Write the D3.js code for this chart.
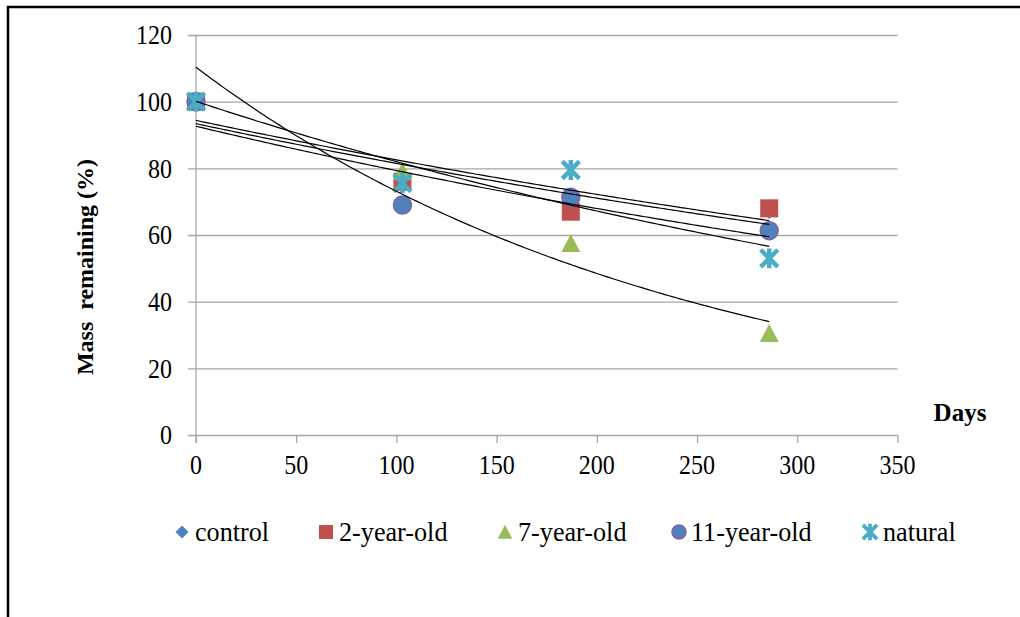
<!DOCTYPE html>
<html>
<head>
<meta charset="utf-8">
<script src="https://cdn.jsdelivr.net/npm/d3@7"></script>
<style>
  body { margin: 0; background: #fff; }
  svg text { font-family: "Liberation Serif", "Times New Roman", "DejaVu Serif", serif; fill: #000; }
  .tick-label { font-size: 27px; }
  .axis-title { font-size: 24px; font-weight: bold; }
  .legend-label { font-size: 27px; }
</style>
</head>
<body>
<svg id="chart"></svg>
<script>
// chart size
const width = 1020;
const height = 617;

// days of sampling
const days = [0, 103, 187, 286];

// series names and mass remaining (%)
const seriesNames = ["control", "2-year-old", "7-year-old", "11-year-old", "natural"];
const control = [100, 76.5, 71, 67.5];
const twoYear = [100, 76, 67, 68];
const sevenYear = [100, 79, 57.5, 30.5];
const elevenYear = [100, 69, 71.3, 61.3];
const natural = [100, 75.6, 79.5, 53];

const seriesValues = [control, twoYear, sevenYear, elevenYear, natural];

const xTicks = [0, 50, 100, 150, 200, 250, 300, 350];
const yTicks = [0, 20, 40, 60, 80, 100, 120];

const colors = ["#4f81bd", "#c0504d", "#9bbb59", "#4f81bd", "#4bacc6"];
const shapes = ["diamond", "square", "triangle", "circle", "star"];

const svg = d3.select("#chart")
  .attr("width", width)
  .attr("height", height);

const xScale = d3.scaleLinear().domain([0, 350]).range([196, 897.5]);
const yScale = d3.scaleLinear().domain([0, 120]).range([435, 35]);

// the source text is a bit narrow for its height
const squeeze = 0.89;

// outer frame (only top and left edges are inside the picture)
svg.append("rect")
  .attr("x", 8).attr("y", 7)
  .attr("width", 1100).attr("height", 700)
  .attr("fill", "none")
  .attr("stroke", "#000")
  .attr("stroke-width", 2.5);

drawAxis();
drawTitles();
drawMarkers();
drawTrends();
drawLegend();

function translate(x, y) {
  return "translate(" + String(x) + "," + String(y) + ")";
}

function drawAxis() {
  // horizontal grid, with ticks sticking out to the left
  svg.append("g")
    .attr("class", "ygrid")
    .attr("transform", translate(xScale.range()[1], 0))
    .call(d3.axisLeft(yScale).tickValues(yTicks).tickSize(xScale.range()[1] - xScale.range()[0] + 8).tickFormat(""))
    .call(g => g.select("path.domain").remove())
    .selectAll("line").attr("stroke", "#a6a6a6").attr("stroke-width", 1.3);

  // x axis ticks pointing down
  svg.append("g")
    .attr("class", "xaxis")
    .attr("transform", translate(0, yScale(0)))
    .call(d3.axisBottom(xScale).tickValues(xTicks).tickSize(8).tickSizeOuter(0).tickFormat(""))
    .call(g => g.select("path.domain").remove())
    .selectAll("line").attr("stroke", "#a6a6a6").attr("stroke-width", 1.3);

  // y axis line
  svg.append("line")
    .attr("x1", xScale(0)).attr("x2", xScale(0))
    .attr("y1", yScale(120)).attr("y2", yScale(0) + 8)
    .attr("stroke", "#a6a6a6").attr("stroke-width", 1.3);

  svg.append("g").selectAll("g")
    .data(yTicks).enter().append("g")
    .attr("transform", d => translate(172, yScale(d)) + " scale(" + squeeze + ",1)")
    .append("text")
    .attr("class", "tick-label")
    .attr("dy", "0.34em")
    .attr("text-anchor", "end")
    .text(d => d);

  svg.append("g").selectAll("g")
    .data(xTicks).enter().append("g")
    .attr("transform", d => translate(xScale(d), 474) + " scale(" + squeeze + ",1)")
    .append("text")
    .attr("class", "tick-label")
    .attr("text-anchor", "middle")
    .text(d => d);
}

function drawTitles() {
  svg.append("text")
    .attr("class", "axis-title")
    .attr("x", 960).attr("y", 421)
    .attr("text-anchor", "middle")
    .style("font-size", "25px")
    .text("Days");

  let yGroup = svg.append("g").attr("transform", translate(93, 267));
  yGroup.append("text")
    .attr("class", "axis-title")
    .attr("text-anchor", "middle")
    .attr("transform", "rotate(-90)")
    .text("Mass\u00a0\u00a0remaining (%)");
}

// draws one marker shape centred on (0,0)
function marker(g, shape, color, s) {
  if (shape == "diamond") {
    g.append("path").attr("d", `M0,${-s}L${s},0L0,${s}L${-s},0Z`).attr("fill", color);
  } else if (shape == "square") {
    g.append("rect").attr("x", -s).attr("y", -s).attr("width", 2 * s).attr("height", 2 * s).attr("fill", color);
  } else if (shape == "triangle") {
    g.append("path").attr("d", `M0,${-s * 1.05}L${s * 1.05},${s * 0.95}L${-s * 1.05},${s * 0.95}Z`).attr("fill", color);
  } else if (shape == "circle") {
    g.append("circle").attr("r", s).attr("fill", color).attr("stroke", "#8064a2").attr("stroke-width", 1.5);
  } else {
    let a = s * 0.95;
    g.append("path")
      .attr("d", `M${-a},${-a}L${a},${a}M${a},${-a}L${-a},${a}M0,${-s * 1.1}L0,${s * 1.1}`)
      .attr("stroke", color).attr("stroke-width", s / 2).attr("fill", "none");
  }
}

function drawMarkers() {
  let plot = svg.append("g").attr("id", "markers");
  seriesValues.forEach((vals, i) => {
    vals.forEach((v, j) => {
      let g = plot.append("g").attr("transform", translate(xScale(days[j]), yScale(v)));
      marker(g, shapes[i], colors[i], 9);
    });
  });
}

// exponential trend line (least squares on ln y), like the spreadsheet one
function expFit(xs, ys) {
  let ly = ys.map(Math.log);
  let mx = d3.mean(xs), my = d3.mean(ly);
  let sxy = d3.sum(xs, (x, i) => (x - mx) * (ly[i] - my));
  let sxx = d3.sum(xs, x => (x - mx) * (x - mx));
  let b = sxy / sxx;
  let a = my - b * mx;
  return x => Math.exp(a + b * x);
}

function drawTrends() {
  let line = d3.line().x(d => xScale(d[0])).y(d => yScale(d[1]));
  let xs = d3.range(days[0], days[days.length - 1] + 1, 2);
  seriesValues.forEach(vals => {
    let f = expFit(days, vals);
    svg.append("path")
      .attr("d", line(xs.map(x => [x, f(x)])))
      .attr("fill", "none")
      .attr("stroke", "#000")
      .attr("stroke-width", 1.2);
  });
}

function drawLegend() {
  let markX = [182, 326, 505, 679, 870];
  let sizes = [6.5, 7, 7, 7, 7.5];
  let legend = svg.append("g").attr("id", "legend");
  seriesNames.forEach((name, i) => {
    let g = legend.append("g").attr("transform", translate(markX[i], 532));
    marker(g, shapes[i], colors[i], sizes[i]);
    g.append("g")
      .attr("transform", translate(i == 3 ? 12 : 13, 0) + " scale(0.97,1)")
      .append("text")
      .attr("class", "legend-label")
      .attr("dy", "0.34em")
      .text(name);
  });
}
</script>
</body>
</html>
